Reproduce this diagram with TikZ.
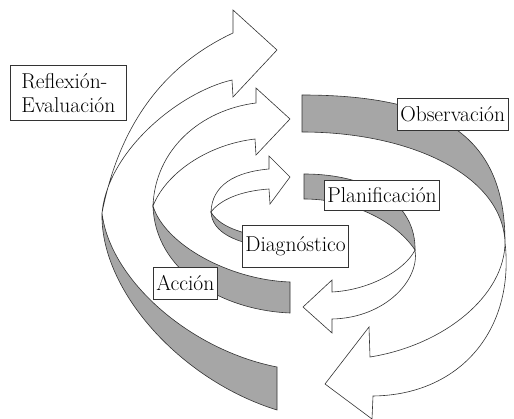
\documentclass[tikz,border=0pt]{standalone}
\usepackage{fontspec}
\usepackage{tikz}

\begin{document}
\begin{tikzpicture}[x=1pt,y=-1pt,
	grayband/.style={fill=black!35, draw=black!80, line width=0.6pt},
	whitearrow/.style={fill=white, draw=black!80, line width=0.6pt},
	labelbox/.style={draw=black!80, fill=white, line width=0.6pt, inner xsep=3pt, inner ysep=4pt, font=\fontsize{21.5}{24}\selectfont}]
			\useasboundingbox (0,0) rectangle (514,419);
			\coordinate (t1) at (102,213);
			\coordinate (t2) at (153,206);
			\coordinate (t3) at (211,212);
			\coordinate (t4) at (505,242);
			\coordinate (t5) at (415,250);
			\filldraw[grayband] (302,95) .. controls (444,95) and (505,139) .. (t4) .. controls (502,175) and (410,132) .. (302,132) -- cycle;
			\filldraw[whitearrow] (t4) .. controls (515,330) and (460,395) .. (373,396) -- (372,419) -- (325,384) -- (369,327) -- (370,357) .. controls (445,345) and (505,295) .. (t4) -- cycle;
			\filldraw[grayband] (304,174) .. controls (371,174) and (416,204) .. (t5) .. controls (395,220) and (350,199) .. (304,199) -- cycle;
			\filldraw[whitearrow] (t5) .. controls (420,280) and (385,318) .. (332,319) -- (332,333) -- (303,307) -- (332,280) -- (332,292) .. controls (370,290) and (405,270) .. (t5) -- cycle;
			\filldraw[grayband] (t1) .. controls (100,290) and (180,380) .. (277,410) -- (277,367) .. controls (190,350) and (110,280) .. (t1) -- cycle;
			\filldraw[whitearrow] (t1) .. controls (108,150) and (180,92) .. (232,80) -- (233,97) -- (277,50) -- (233,10) -- (233,33) .. controls (154,70) and (117,137) .. (t1) -- cycle;
			\filldraw[grayband] (t2) .. controls (155,270) and (220,310) .. (290,313) -- (290,282) .. controls (230,280) and (165,245) .. (t2) -- cycle;
			\filldraw[whitearrow] (t2) .. controls (165,175) and (205,145) .. (255,139) -- (256,155) -- (290,119) -- (256,88) -- (256,103) .. controls (200,110) and (155,150) .. (t2) -- cycle;
			\filldraw[grayband] (t3) .. controls (212,232) and (235,244) .. (275,248) -- (275,238) .. controls (240,235) and (218,225) .. (t3) -- cycle;
			\filldraw[whitearrow] (t3) .. controls (220,200) and (240,191) .. (269,189) -- (270,204) -- (290,177) -- (269,156) -- (269,169) .. controls (235,172) and (212,185) .. (t3) -- cycle;
			\node[labelbox, anchor=north west, align=left, minimum width=116pt, minimum height=55pt] (reflexion) at (10,65) {Reflexión-\\Evaluación};
			\node[labelbox, anchor=west, minimum height=32pt] (observacion) at (397,114) {Observación};
			\node[labelbox, anchor=north west, minimum height=30pt] (planificacion) at (324,180) {Planificación};
			\node[labelbox, anchor=north west, minimum height=42pt] (diagnostico) at (242,225) {Diagnóstico};
			\node[labelbox, anchor=north west, minimum height=32pt] (accion) at (153,267) {Acción};
\end{tikzpicture}
\end{document}
